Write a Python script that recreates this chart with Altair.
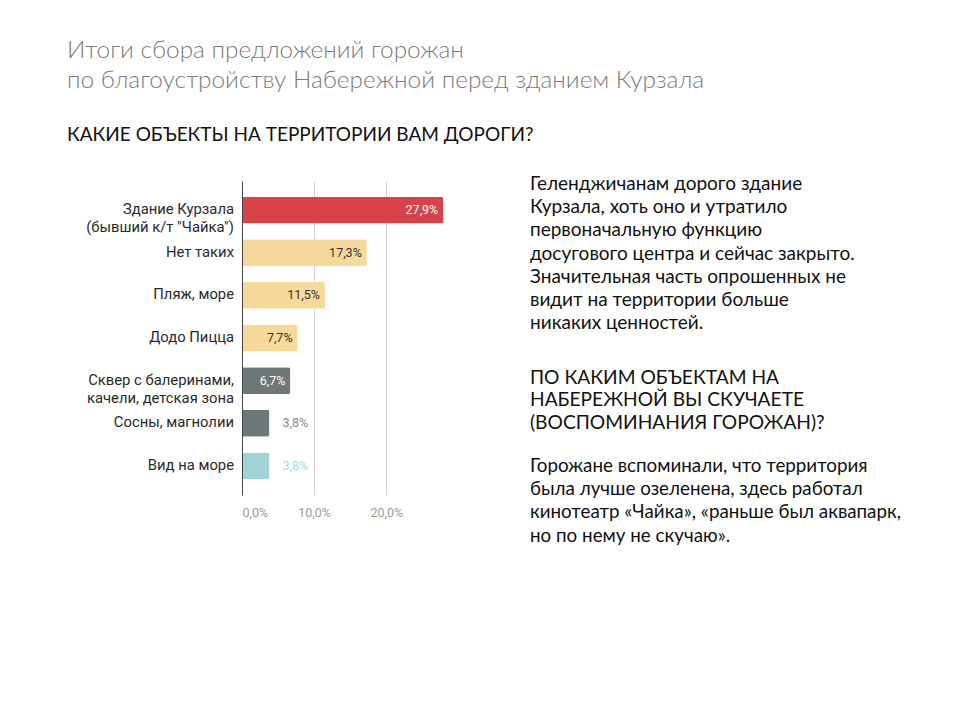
import altair as alt
import pandas as pd

# ---- data ----
categories = [
    "Здание Курзала\n(бывший к/т \"Чайка\")",
    "Нет таких",
    "Пляж, море",
    "Додо Пицца",
    "Сквер с балеринами,\nкачели, детская зона",
    "Сосны, магнолии",
    "Вид на море",
]
values = [27.9, 17.3, 11.5, 7.7, 6.7, 3.8, 3.8]
x_ticks = [0, 10, 20]

title_lines = [
    "Итоги сбора предложений горожан",
    "по благоустройству Набережной перед зданием Курзала",
]
question1 = "КАКИЕ ОБЪЕКТЫ НА ТЕРРИТОРИИ ВАМ ДОРОГИ?"
para1_lines = [
    "Геленджичанам дорого здание",
    "Курзала, хоть оно и утратило",
    "первоначальную функцию",
    "досугового центра и сейчас закрыто.",
    "Значительная часть опрошенных не",
    "видит на территории больше",
    "никаких ценностей.",
]
question2_lines = [
    "ПО КАКИМ ОБЪЕКТАМ НА",
    "НАБЕРЕЖНОЙ ВЫ СКУЧАЕТЕ",
    "(ВОСПОМИНАНИЯ ГОРОЖАН)?",
]
para2_lines = [
    "Горожане вспоминали, что территория",
    "была лучше озеленена, здесь работал",
    "кинотеатр «Чайка», «раньше был аквапарк,",
    "но по нему не скучаю».",
]

# ---- styles ----
bar_colors = ["#d8434a", "#f6da9c", "#f6da9c", "#f6da9c", "#6e7879", "#6e7879", "#9fd4d8"]
label_colors = ["#ffffff", "#333333", "#333333", "#333333", "#ffffff", "#8a8a8a", "#a8dce0"]

df = pd.DataFrame({
    "cat": categories,
    "value": values,
    "bar_color": bar_colors,
    "label_color": label_colors,
})

label_expr = "replace(format(datum.value, '.1f'), '.', ',') + '%'"

y_enc = alt.Y(
    "cat:N",
    sort=categories,
    scale=alt.Scale(paddingInner=0.37, paddingOuter=0.37),
    axis=alt.Axis(labels=False, ticks=False, domain=True, domainColor="#444444",
                  domainWidth=1, grid=False, title=None, zindex=1),
)
x_enc = alt.X(
    "value:Q",
    scale=alt.Scale(domain=[0, 28], nice=False),
    axis=alt.Axis(values=x_ticks, labelExpr=label_expr, grid=True, gridColor="#d4d4d4",
                  domain=False, ticks=False, labelColor="#9a9a9a", labelFont="Roboto",
                  labelFontSize=12.5, labelPadding=11, title=None),
)

base = alt.Chart(df).transform_calculate(
    lbl="replace(format(datum.value, '.1f'), '.', ',') + '%'"
)

bars = base.mark_bar(cornerRadius=2).encode(
    x=x_enc, y=y_enc, color=alt.Color("bar_color:N", scale=None)
)

inside = base.transform_filter("datum.value > 5").mark_text(
    align="right", baseline="middle", dx=-5, font="Roboto", fontSize=12.5
).encode(
    x="value:Q", y=alt.Y("cat:N", sort=categories),
    text="lbl:N", color=alt.Color("label_color:N", scale=None),
)

outside = base.transform_filter("datum.value <= 5").mark_text(
    align="left", baseline="middle", dx=13, font="Roboto", fontSize=12.5
).encode(
    x="value:Q", y=alt.Y("cat:N", sort=categories),
    text="lbl:N", color=alt.Color("label_color:N", scale=None),
)

ylabels = base.mark_text(
    align="right", baseline="middle", font="Roboto", fontSize=14.8,
    color="#2a2a2a", lineBreak="\n", lineHeight=18,
).encode(
    x=alt.value(-8), y=alt.Y("cat:N", sort=categories), text="cat:N",
)


def annot(lines, x, y, size, color, lh, weight="normal"):
    return alt.Chart(pd.DataFrame({"t": ["\n".join(lines)]})).mark_text(
        align="left", baseline="alphabetic", font="Lato", fontSize=size,
        color=color, lineBreak="\n", lineHeight=lh, fontWeight=weight,
    ).encode(x=alt.value(x), y=alt.value(y), text="t:N")


title = annot(title_lines, -175, -123, 24.4, "#7b7b7b", 30, 300)
q1 = annot([question1], -175, -40, 19, "#111111", 22)
p1 = annot(para1_lines, 288, 9, 19, "#111111", 23.2)
q2 = annot(question2_lines, 288, 203, 19.2, "#111111", 22.3)
p2 = annot(para2_lines, 288, 291, 18.8, "#111111", 23.2)

chart = alt.layer(bars, inside, outside, ylabels, title, q1, p1, q2, p2).properties(
    width=202,
    height=314,
    padding={"left": 234, "top": 173, "right": 508, "bottom": 217},
    autosize=alt.AutoSizeParams(type="none"),
    background="#ffffff",
).configure_view(stroke=None)

chart.save("out.html", embed_options={"renderer": "svg", "actions": False})
